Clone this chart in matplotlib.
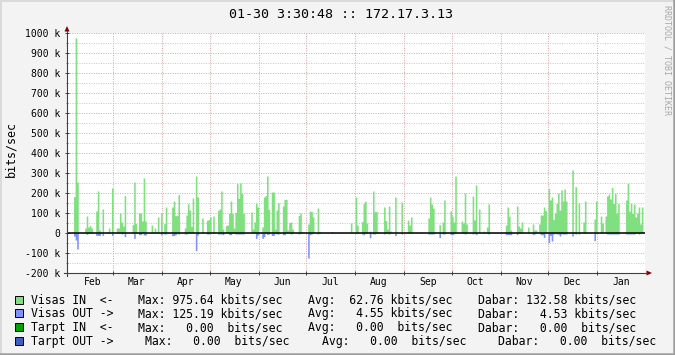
import numpy as np
import matplotlib
matplotlib.use("Agg")
import matplotlib.pyplot as plt
from matplotlib.patches import Rectangle, Polygon
from matplotlib.lines import Line2D
from matplotlib.transforms import Affine2D
from matplotlib.ticker import FixedLocator

plt.rcParams["font.family"] = ["DejaVu Sans Mono"]
plt.rcParams["lines.scale_dashes"] = False

# ---------------- data ----------------
title = "01-30 3:30:48 :: 172.17.3.13"
ylabel = "bits/sec"
watermark = "RRDTOOL / TOBI OETIKER"
months = ["Feb", "Mar", "Apr", "May", "Jun", "Jul", "Aug", "Sep", "Oct", "Nov", "Dec", "Jan"]
month_lengths = [28, 31, 30, 31, 30, 31, 31, 30, 31, 30, 31, 31]
y_ticks = [-200, -100, 0, 100, 200, 300, 400, 500, 600, 700, 800, 900, 1000]
y_tick_labels = ["-200 k", "-100 k", "0", "100 k", "200 k", "300 k", "400 k",
                 "500 k", "600 k", "700 k", "800 k", "900 k", "1000 k"]

# daily "Visas IN" (kbits/sec), one list per month
in_feb = [0, 0, 0, 182, 975.64, 255, 0, 0, 0, 0, 25, 85, 30, 38, 25, 0, 0, 110, 210, 15, 0, 120, 0, 0, 7, 25, 0, 225]
in_mar = [0, 0, 25, 25, 98, 55, 35, 187, 0, 0, 0, 0, 42, 255, 47, 0, 100, 100, 60, 275, 60, 0, 0, 0, 40, 0, 25, 0, 80, 0, 100]
in_apr = [8, 47, 130, 0, 0, 0, 130, 160, 87, 87, 192, 0, 0, 0, 25, 90, 147, 115, 33, 175, 0, 285, 180, 0, 0, 75, 0, 0, 63, 67]
in_may = [82, 0, 85, 0, 0, 113, 120, 210, 20, 0, 37, 40, 98, 160, 97, 25, 103, 247, 173, 250, 197, 98, 0, 0, 0, 0, 105, 20, 55, 148, 130]
in_jun = [0, 0, 30, 180, 187, 285, 118, 0, 205, 205, 20, 115, 152, 0, 0, 135, 168, 168, 15, 52, 55, 20, 0, 0, 0, 88, 100, 7, 0, 0]
in_jul = [0, 45, 110, 107, 80, 0, 0, 125, 7, 0, 0, 0, 0, 0, 0, 0, 7, 0, 0, 0, 0, 0, 0, 0, 0, 0, 0, 0, 50, 0, 0]
in_aug = [180, 40, 0, 0, 57, 148, 160, 50, 0, 10, 0, 210, 107, 107, 7, 0, 0, 0, 130, 62, 20, 135, 10, 0, 0, 180, 5, 0, 0, 155, 0]
in_sep = [0, 0, 65, 40, 80, 0, 0, 0, 0, 0, 5, 0, 0, 0, 0, 75, 180, 145, 125, 0, 0, 0, 42, 0, 55, 165, 0, 0, 0, 110]
in_oct = [85, 55, 285, 0, 0, 0, 60, 50, 200, 45, 0, 0, 0, 185, 65, 240, 0, 120, 0, 0, 10, 0, 30, 145, 0, 0, 0, 0, 0, 0, 0]
in_nov = [0, 0, 0, 40, 130, 85, 15, 0, 0, 0, 135, 35, 25, 55, 0, 0, 0, 30, 0, 0, 45, 15, 15, 0, 45, 90, 90, 130, 113, 0]
in_dec = [223, 165, 180, 68, 100, 148, 200, 115, 215, 160, 220, 160, 0, 0, 0, 315, 5, 232, 0, 150, 0, 0, 55, 160, 0, 0, 0, 0, 0, 70, 160]
in_jan = [0, 0, 85, 50, 0, 85, 185, 195, 170, 228, 148, 197, 98, 148, 0, 0, 0, 0, 165, 248, 110, 148, 98, 145, 80, 100, 130, 45, 130, 0]

# daily "Visas OUT" (kbits/sec), drawn downwards
out_feb = [0, 0, 0, 15, 35, 80, 0, 0, 0, 0, 0, 7, 0, 0, 0, 0, 0, 12, 12, 12, 0, 12, 0, 0, 0, 0, 0, 12]
out_mar = [0, 0, 0, 0, 0, 5, 0, 18, 0, 0, 0, 0, 0, 27, 0, 0, 8, 8, 0, 10, 10, 0, 0, 0, 0, 0, 0, 0, 0, 0, 10]
out_apr = [0, 5, 5, 0, 0, 0, 13, 13, 8, 0, 5, 0, 0, 0, 5, 5, 0, 0, 0, 0, 0, 88, 10, 0, 0, 0, 0, 0, 5, 5]
out_may = [0, 0, 0, 0, 0, 5, 5, 5, 8, 0, 0, 0, 8, 8, 0, 0, 5, 5, 5, 5, 5, 5, 0, 0, 0, 0, 0, 0, 0, 27, 10]
out_jun = [0, 0, 27, 18, 0, 8, 5, 0, 12, 12, 0, 5, 5, 0, 0, 8, 8, 0, 0, 0, 5, 0, 0, 0, 0, 5, 0, 0, 0, 0]
out_jul = [0, 125.19, 8, 5, 0, 0, 0, 5, 0, 0, 0, 0, 0, 0, 0, 0, 0, 0, 0, 0, 0, 0, 0, 0, 0, 0, 0, 0, 0, 0, 0]
out_aug = [0, 0, 0, 0, 5, 8, 0, 0, 0, 23, 0, 5, 5, 0, 0, 0, 0, 0, 5, 0, 0, 5, 0, 0, 0, 13, 0, 0, 0, 5, 0]
out_sep = [0, 0, 0, 0, 0, 0, 0, 0, 0, 0, 0, 0, 0, 0, 0, 5, 5, 5, 5, 0, 0, 0, 23, 0, 5, 5, 0, 0, 0, 8]
out_oct = [8, 5, 0, 0, 0, 0, 0, 0, 5, 0, 0, 0, 0, 5, 0, 8, 0, 0, 0, 0, 0, 0, 0, 5, 0, 0, 0, 0, 0, 0, 0]
out_nov = [0, 0, 0, 8, 8, 8, 8, 0, 0, 0, 8, 0, 0, 0, 0, 0, 0, 0, 0, 0, 8, 5, 0, 0, 0, 8, 8, 22, 0, 0]
out_dec = [48, 12, 40, 5, 0, 5, 5, 15, 5, 5, 5, 5, 0, 0, 0, 15, 0, 5, 0, 5, 0, 0, 0, 0, 0, 0, 0, 0, 0, 38, 0]
out_jan = [0, 0, 0, 0, 0, 0, 5, 5, 5, 5, 5, 5, 5, 5, 0, 0, 0, 0, 5, 5, 5, 5, 5, 5, 0, 0, 5, 0, 0, 0]

legend_names = ["Visas IN  <-", "Visas OUT ->", "Tarpt IN  <-", "Tarpt OUT ->"]
legend_colors = ["#80E080", "#8090FF", "#00A000", "#4060C0"]
max_vals = [975.64, 125.19, 0.00, 0.00]
avg_vals = [62.76, 4.55, 0.00, 0.00]
cur_vals = [132.58, 4.53, 0.00, 0.00]
unit_prefix = ["k", "k", " ", " "]

# ---------------- style ----------------
W, H = 675, 355
C_IN, C_OUT = legend_colors[0], legend_colors[1]
BACK = "#F3F3F3"
MGRID = "#E3A6A6"
GRID = "#C8C8C8"
AXIS = "#404040"
ARROW = "#800000"

in_all = np.array(in_feb + in_mar + in_apr + in_may + in_jun + in_jul +
                  in_aug + in_sep + in_oct + in_nov + in_dec + in_jan, dtype=float)
out_all = np.array(out_feb + out_mar + out_apr + out_may + out_jun + out_jul +
                   out_aug + out_sep + out_oct + out_nov + out_dec + out_jan, dtype=float)
days = np.arange(len(in_all) + 1)
in_step = np.append(in_all, in_all[-1])
out_step = np.append(out_all, out_all[-1])
starts = np.cumsum([0] + month_lengths)

fig = plt.figure(figsize=(W / 100, H / 100), dpi=100)
fig.patch.set_facecolor(BACK)
pix = Affine2D().scale(1 / W, -1 / H).translate(0, 1) + fig.transFigure

ax = fig.add_axes([67 / W, 1 - 273 / H, 578 / W, 240 / H])
ax.set_facecolor("white")
ax.set_xlim(-1.14, 364.3)
ax.set_ylim(-200, 1000)
for s in ax.spines.values():
    s.set_visible(False)

# grid (dotted)
for v in range(-150, 1001, 50):
    major = (v % 100 == 0)
    ax.axhline(v, color=MGRID if major else GRID, lw=0.72, dashes=(0.72, 1.0),
               zorder=1)
for s in starts[1:12]:
    ax.axvline(s, color=MGRID, lw=0.72, dashes=(0.72, 1.0), zorder=1)

# data as step areas
ax.fill_between(days, in_step, 0, step="post", color=C_IN, linewidth=0,
                antialiased=False, zorder=2)
ax.fill_between(days, -out_step, 0, step="post", color=C_OUT, linewidth=0,
                antialiased=False, zorder=2)
ax.axhline(0, color="black", lw=1.1, zorder=3)

# ticks
ax.set_yticks(y_ticks)
ax.set_yticklabels(y_tick_labels)
ax.yaxis.set_minor_locator(FixedLocator([v for v in range(-150, 1000, 100)]))
ax.tick_params(axis="y", which="major", direction="inout", length=2.9, width=0.72,
               color=AXIS, pad=3.6, labelsize=7)
ax.tick_params(axis="y", which="minor", direction="inout", length=1.5, width=0.72,
               color="#909090")
ax.set_xticks(starts[1:12])
ax.set_xticklabels([""] * 11)
ax.set_xticks(starts[:12] + 15, minor=True)
ax.set_xticklabels(months, minor=True)
ax.tick_params(axis="x", which="major", direction="inout", length=2.9, width=0.72,
               color=AXIS)
ax.tick_params(axis="x", which="minor", length=0, pad=3.0, labelsize=7)

# axes lines and arrows
fig.add_artist(Line2D([67, 67], [276, 31], transform=pix, color=AXIS, lw=0.8))
fig.add_artist(Line2D([64, 647], [273, 273], transform=pix, color=AXIS, lw=0.8))
fig.add_artist(Polygon([[64.5, 31.5], [69.5, 31.5], [67, 26]], closed=True,
                       transform=pix, color=ARROW, lw=0))
fig.add_artist(Polygon([[646.5, 270.5], [646.5, 275.5], [652, 273]], closed=True,
                       transform=pix, color=ARROW, lw=0))

# frame shading
fig.add_artist(Line2D([0, 675], [0.7, 0.7], transform=pix, color="#DADADA", lw=1.4))
fig.add_artist(Line2D([0.7, 0.7], [0, 355], transform=pix, color="#DADADA", lw=1.4))
fig.add_artist(Line2D([0, 675], [353.8, 353.8], transform=pix, color="#9E9E9E", lw=1.8))
fig.add_artist(Line2D([673.8, 673.8], [0, 355], transform=pix, color="#9E9E9E", lw=1.8))

# texts
fig.text(341, 14, title, transform=pix, ha="center", va="center", fontsize=9.6)
fig.text(11, 149, ylabel, transform=pix, ha="center", va="center", rotation=90, fontsize=8.4)
fig.text(667.5, 5, watermark, transform=pix, ha="center", va="top", rotation=270,
         fontsize=6, color="#A8A8A8")

# legend
group_x = [[137.8, 307.8, 477.8], [137.8, 307.8, 477.8],
           [137.8, 307.8, 477.8], [145.1, 322.0, 498.5]]
for i in range(4):
    yb = 303.7 + 13.7 * i
    fig.add_artist(Rectangle((15, yb - 8), 7.5, 8, transform=pix,
                             facecolor=legend_colors[i], edgecolor="black", lw=0.7))
    fig.text(31, yb, legend_names[i], transform=pix, va="baseline", ha="left", fontsize=8.3)
    u = unit_prefix[i]
    groups = [f"Max: {max_vals[i]:6.2f} {u}bits/sec",
              f"Avg: {avg_vals[i]:6.2f} {u}bits/sec",
              f"Dabar: {cur_vals[i]:6.2f} {u}bits/sec"]
    for gx, g in zip(group_x[i], groups):
        fig.text(gx, yb, g, transform=pix, va="baseline", ha="left", fontsize=8.3)

fig.savefig("out.png", dpi=100, facecolor=fig.get_facecolor())
